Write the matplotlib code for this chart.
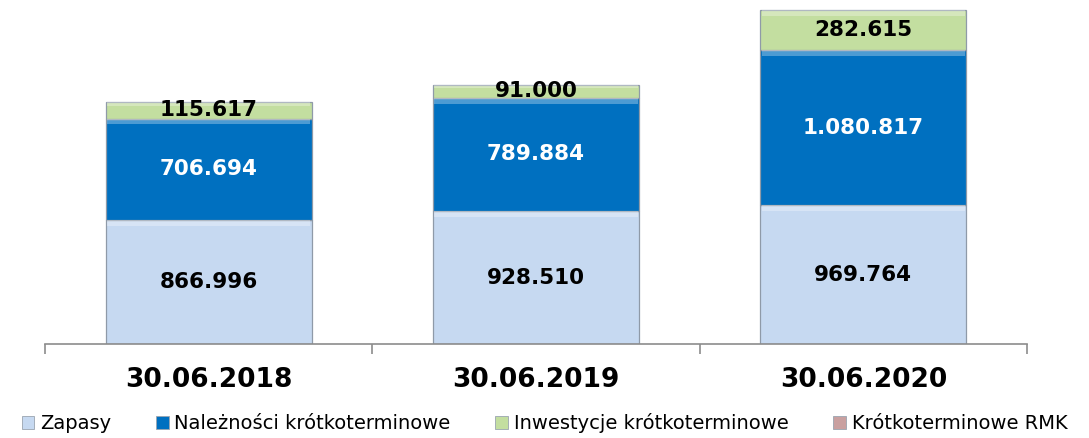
import matplotlib.pyplot as plt
import numpy as np
from matplotlib.ticker import FixedLocator
from matplotlib.patches import Patch

# data (thousand PLN)
categories = ['30.06.2018', '30.06.2019', '30.06.2020']
zapasy = [866.996, 928.510, 969.764]
naleznosci = [706.694, 789.884, 1080.817]
inwestycje = [115.617, 91.000, 282.615]
rmk = [0.0, 0.0, 0.0]
zapasy_lbl = ['866.996', '928.510', '969.764']
naleznosci_lbl = ['706.694', '789.884', '1.080.817']
inwestycje_lbl = ['115.617', '91.000', '282.615']
series_names = ['Zapasy', 'Należności krótkoterminowe', 'Inwestycje krótkoterminowe', 'Krótkoterminowe RMK']

col_zap = '#C6D9F1'
col_nal = '#0070C0'
col_inw = '#C3DEA0'
col_rmk = '#C9A0A0'

fig = plt.figure(figsize=(10.89, 4.38), dpi=100)
ax = fig.add_axes([45/1089, (438-344)/438, 982/1089, 344/438])

x = np.arange(len(categories))
w = 0.63
bottom = np.zeros(len(x))
segs = [(zapasy, col_zap, zapasy_lbl, 'black'),
        (naleznosci, col_nal, naleznosci_lbl, 'white'),
        (inwestycje, col_inw, inwestycje_lbl, 'black')]
for vals, c, lbls, tc in segs:
    vals = np.array(vals)
    ax.bar(x, vals, w, bottom=bottom, color=c, edgecolor='#8f9aa8', linewidth=0.9, zorder=2)
    # soft bevel: lighter strip along the top edge
    band = np.minimum(vals * 0.25, 40)
    ax.bar(x, band, w * 0.985, bottom=bottom + vals - band, color='white', alpha=0.3,
           linewidth=0, zorder=3)
    for i in range(len(x)):
        ax.text(x[i], bottom[i] + vals[i] / 2, lbls[i], ha='center', va='center',
                fontsize=15.5, fontweight='bold', color=tc, family='DejaVu Sans', zorder=4)
    bottom = bottom + vals

ax.set_xlim(-0.5, 2.5)
ax.set_ylim(0, 2402)
for s in ['top', 'right', 'left']:
    ax.spines[s].set_visible(False)
ax.spines['bottom'].set_color('#8c8c8c')
ax.spines['bottom'].set_linewidth(1.2)
ax.set_yticks([])
ax.xaxis.set_major_locator(FixedLocator([-0.5, 0.5, 1.5, 2.5]))
ax.set_xticklabels([])
ax.tick_params(axis='x', direction='out', length=7, width=1.2, color='#8c8c8c')
for i, cat in enumerate(categories):
    ax.text(x[i], -0.105 * 2402, cat, ha='center', va='center', fontsize=19,
            fontweight='bold', family='DejaVu Sans')

handles = [Patch(facecolor=c, edgecolor='#9aa4b0', linewidth=0.6)
           for c in [col_zap, col_nal, col_inw, col_rmk]]
fig.legend(handles, series_names, loc='center', bbox_to_anchor=(0.5, (438-423)/438),
           ncol=4, frameon=False, handlelength=0.65, handleheight=0.65,
           handletextpad=0.3, columnspacing=2.3,
           prop={'family': ['DejaVu Sans'], 'size': 14})

fig.savefig('out.png', dpi=100)
